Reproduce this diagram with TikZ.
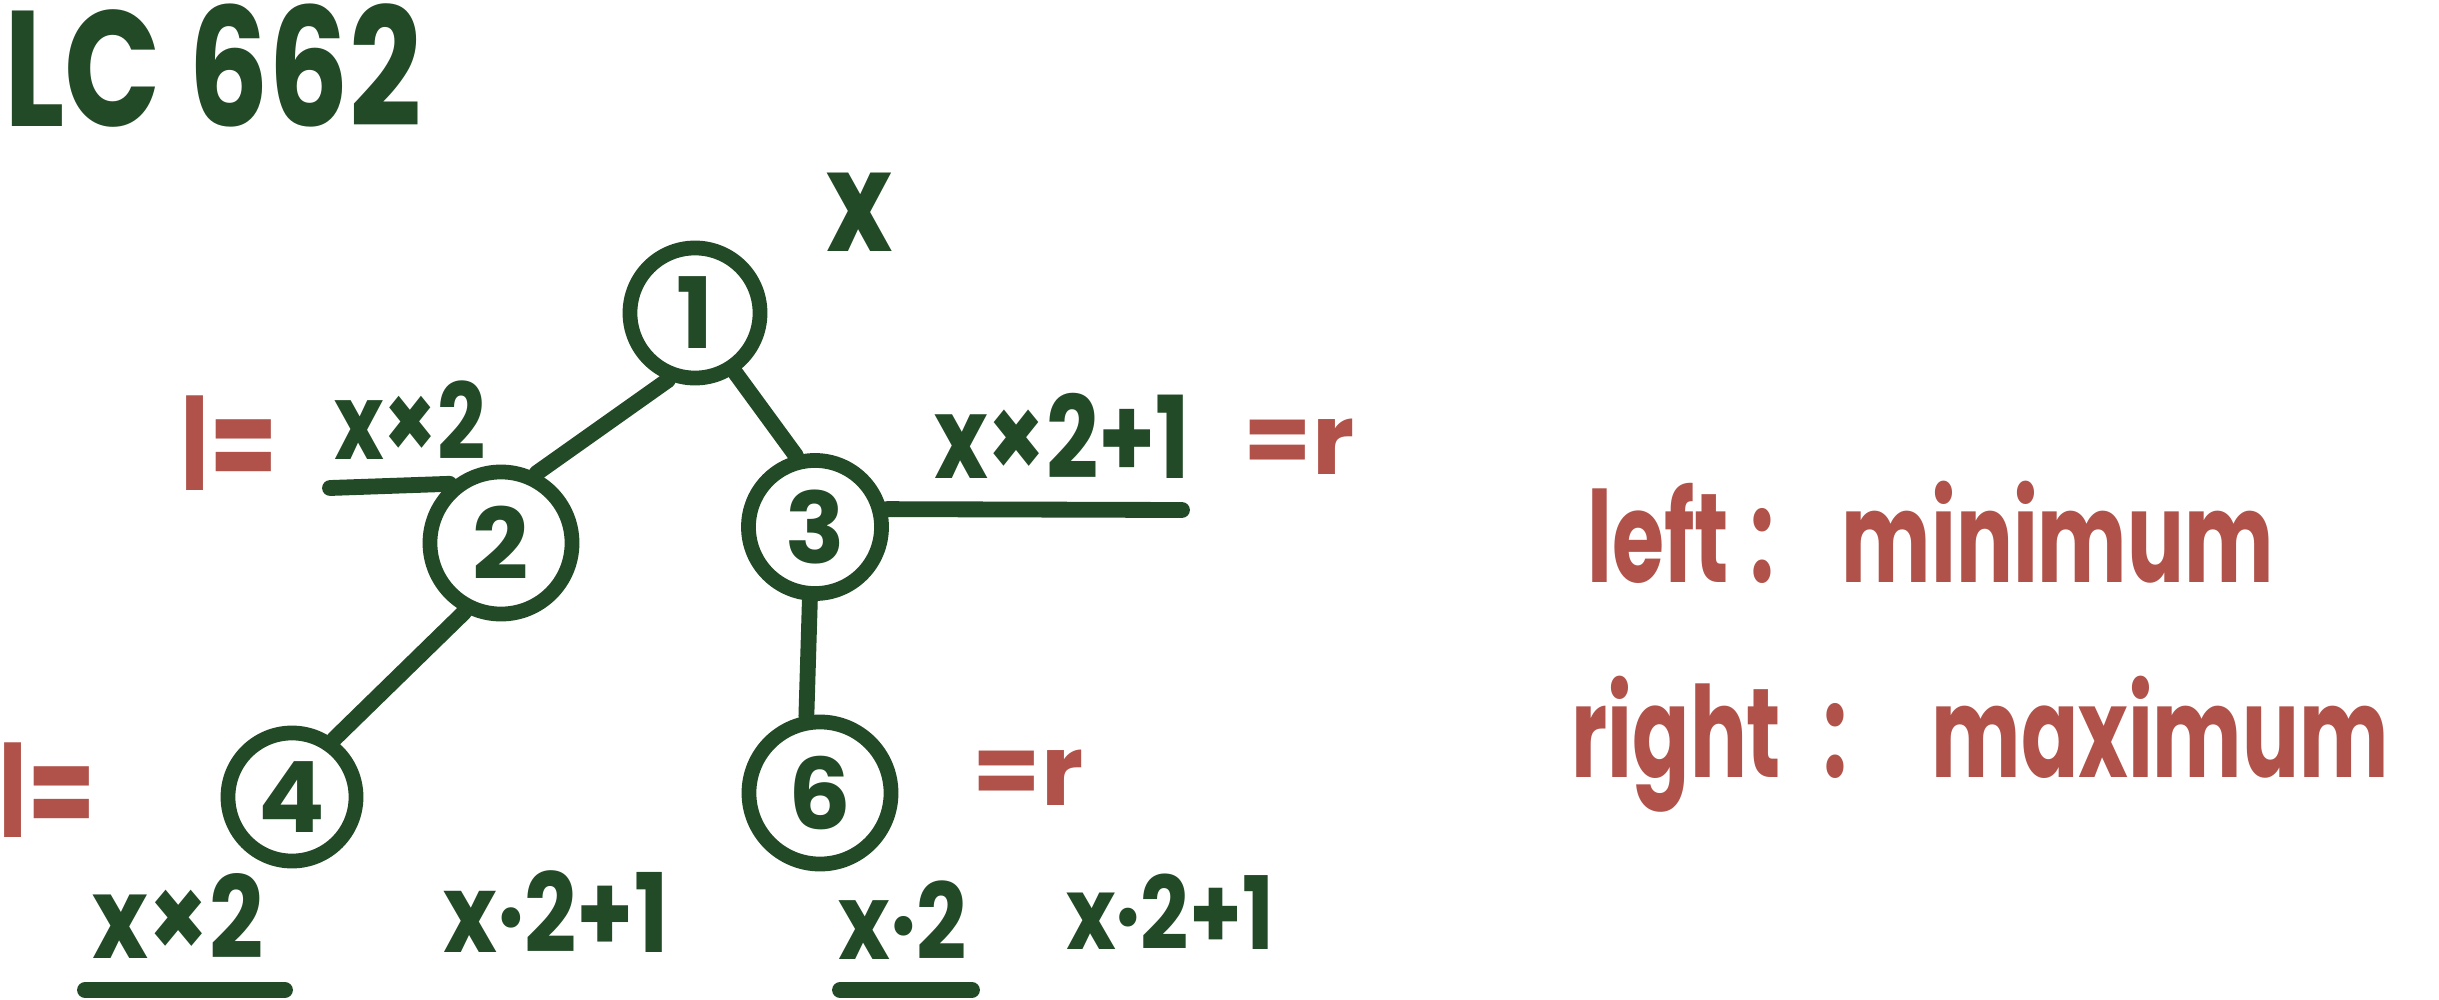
\documentclass[tikz,border=0pt]{standalone}
\usepackage{fontspec}
\setmainfont{Poppins}
\definecolor{ink}{HTML}{224A27}
\definecolor{redink}{HTML}{B0524A}
\begin{document}
\begin{tikzpicture}[x=0.01cm,y=-0.01cm,
  circ/.style={circle,draw=ink,line width=4.2pt,minimum size=#1,inner sep=0pt,text=ink,
    font=\fontsize{28}{32}\selectfont\bfseries},
  edge/.style={draw=ink,line width=4.5pt,line cap=round},
  lab/.style={text=ink,inner sep=0pt,font=\fontsize{#1}{#1}\selectfont\bfseries},
  rlab/.style={text=redink,inner sep=0pt,font=\fontsize{#1}{#1}\selectfont\bfseries}
]
\useasboundingbox (0,0) rectangle (2439,1000);

% title
\node[lab=36] (title) at (213,66) {\scalebox{1}[1.3]{LC 662}};

% tree nodes
\node[circ=1.30cm] (n1) at (695,313) {1};
\node[circ=1.42cm] (n2) at (501,543) {2};
\node[circ=1.33cm] (n3) at (815,527) {3};
\node[circ=1.28cm] (n4) at (292,797) {4};
\node[circ=1.42cm] (n6) at (820,793) {6};

% edges
\draw[edge] (n1.248) -- (n2.63);
\draw[edge] (n1.304) -- (n3.105);
\draw[edge] (n2.242) -- (n4.54);
\draw[edge] (n3.266) -- (n6.100);

% value label of root
\node[lab=32] (xroot) at (860,212) {\scalebox{1}[1.25]{x}};

% range lines
\coordinate (lend) at (330,488);
\draw[edge] (lend) -- (n2.131);
\coordinate (rend) at (1182,510);
\draw[edge] (n3.14) -- (rend);

\node[lab=24] (lx2) at (410,420) {\scalebox{1}[1.25]{x×2}};
\node[lab=26] (rx21) at (1062,436) {\scalebox{1}[1.25]{x×2+1}};
\node[rlab=28] (leq1) at (229,443) {\scalebox{1}[1.3]{l=}};
\node[rlab=28] (req1) at (1299,447) {=r};

% bottom labels
\node[lab=27] (bx2a) at (178,916) {\scalebox{1}[1.2]{x×2}};
\coordinate (u1a) at (85,990);
\coordinate (u1b) at (285,990);
\draw[edge] (u1a) -- (u1b);
\node[lab=26] (bx21a) at (556,912) {\scalebox{1}[1.2]{x·2+1}};
\node[lab=25] (bx2b) at (903,920) {\scalebox{1}[1.2]{x·2}};
\coordinate (u2a) at (840,990);
\coordinate (u2b) at (972,990);
\draw[edge] (u2a) -- (u2b);
\node[lab=24] (bx21b) at (1170,912) {\scalebox{1}[1.2]{x·2+1}};

\node[rlab=28] (leq2) at (47,790) {\scalebox{1}[1.3]{l=}};
\node[rlab=28] (req2) at (1028,778) {=r};

% notes
\node[rlab=24,anchor=west] (left) at (1587,532) {\scalebox{1}[1.5]{left\hspace{0.25em}:\hspace{0.8em}minimum}};
\node[rlab=24,anchor=west] (right) at (1571,744) {\scalebox{1}[1.5]{right\hspace{0.5em}:\hspace{1em}maximum}};
\end{tikzpicture}
\end{document}
